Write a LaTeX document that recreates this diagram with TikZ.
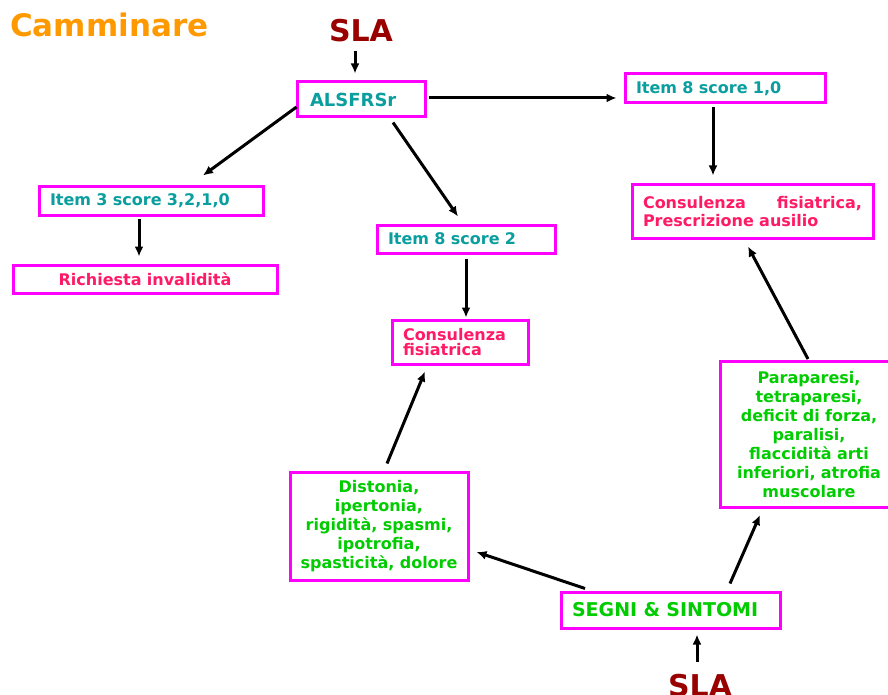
\documentclass[tikz,border=0pt]{standalone}
\usepackage{fontspec}
\setmainfont{DejaVu Sans}
\usetikzlibrary{arrows.meta}
\definecolor{boxmag}{HTML}{FF00FF}
\definecolor{itemteal}{HTML}{0A9E9E}
\definecolor{actpink}{HTML}{FF1A66}
\definecolor{symgreen}{HTML}{00CC00}
\definecolor{titleorange}{HTML}{FF9900}
\definecolor{slared}{HTML}{990000}
\begin{document}
\begin{tikzpicture}[x=1pt,y=-1pt,
  box/.style={draw=boxmag, line width=3pt, fill=white, inner xsep=11pt, inner ysep=0pt,
    font=\fontsize{16}{19}\selectfont\bfseries},
  itemtxt/.style={text=itemteal},
  pinktxt/.style={text=actpink},
  greentxt/.style={text=symgreen},
  bigword/.style={anchor=base, inner sep=0pt, font=\fontsize{30}{30}\selectfont\bfseries},
  arr/.style={-{Latex[length=10pt,width=9pt]}, line width=3pt}
]
\useasboundingbox (0,0) rectangle (888,695);

% headings
\node[bigword, anchor=base west, text=titleorange, font=\fontsize{31}{31}\selectfont\bfseries] (title) at (10,37) {Camminare};
\node[bigword, text=slared] (sla1) at (361,42) {SLA};
\node[bigword, text=slared] (sla2) at (700,696) {SLA};

% scale and items
\node[box, itemtxt, font=\fontsize{18}{20}\selectfont\bfseries, inner xsep=13pt, text width=102pt, align=left, minimum height=35pt] (alsf) at (361,99.5) {ALSFRSr};
\node[box, itemtxt, text width=178pt, align=left, minimum height=29pt] (item10) at (725,88.5) {Item 8 score 1,0};
\node[box, itemtxt, text width=202pt, align=left, minimum height=28pt] (item3) at (151,201) {Item 3 score 3,2,1,0};
\node[box, itemtxt, text width=156pt, align=left, minimum height=28pt] (item2) at (466,239) {Item 8 score 2};

% actions
\node[box, pinktxt, text width=242pt, align=center, minimum height=28pt] (rich) at (145,279) {Richiesta invalidità};
\node[box, pinktxt, font=\fontsize{16}{15}\selectfont\bfseries, text width=114pt, align=left, minimum height=44pt] (cons) at (460,342) {Consulenza\\fisiatrica};
\node[box, pinktxt, font=\fontsize{16}{18}\selectfont\bfseries, text width=219pt, align=left, minimum height=53pt] (consP) at (752.5,211.5) {Consulenza\hfill fisiatrica,\\Prescrizione ausilio};

% signs and symptoms
\node[box, greentxt, inner xsep=4pt, text width=170pt, align=center, minimum height=108pt] (dist) at (379,526)
  {Distonia,\\ipertonia,\\rigidità, spasmi,\\ipotrofia,\\spasticità, dolore};
\node[box, greentxt, inner xsep=4pt, text width=170pt, align=center, minimum height=146pt] (para) at (809,434.5)
  {Paraparesi,\\tetraparesi,\\deficit di forza,\\paralisi,\\flaccidità arti\\inferiori, atrofia\\muscolare};
\node[box, greentxt, font=\fontsize{19}{21}\selectfont\bfseries, text width=197pt, align=left, minimum height=36pt] (segni) at (670.5,610) {SEGNI \& SINTOMI};

% connectors
\draw[arr] ([xshift=-6pt,yshift=-8pt]sla1.south) -- ([xshift=-6pt,yshift=7pt]alsf.north);
\draw[arr] ([xshift=1pt,yshift=-7.5pt]alsf.west) -- ([xshift=52pt,yshift=10pt]item3.north);
\draw[arr] ([xshift=32pt,yshift=-4pt]alsf.south) -- ([xshift=-8pt,yshift=7pt]item2.north);
\draw[arr] ([xshift=2pt,yshift=1.5pt]alsf.east) -- ([xshift=-7pt,yshift=-9.5pt]item10.west);
\draw[arr] ([xshift=-12pt,yshift=-3pt]item10.south) -- ([xshift=-39.5pt,yshift=8pt]consP.north);
\draw[arr] ([xshift=-12pt,yshift=-2pt]item3.south) -- ([xshift=-6pt,yshift=7pt]rich.north);
\draw[arr] ([yshift=-4pt]item2.south) -- ([xshift=6pt,yshift=1pt]cons.north);
\draw[arr] ([xshift=8pt,yshift=7pt]dist.north) -- ([xshift=-35pt,yshift=-6pt]cons.south);
\draw[arr] ([xshift=-85.5pt,yshift=2pt]segni.north) -- ([xshift=7pt,yshift=-26pt]dist.east);
\draw[arr] ([xshift=59.5pt,yshift=7pt]segni.north) -- ([xshift=-49pt,yshift=-6pt]para.south);
\draw[arr] ([xshift=-1pt,yshift=1pt]para.north) -- ([xshift=-4.5pt,yshift=-7pt]consP.south);
\draw[arr] ([xshift=-3pt,yshift=12pt]sla2.north) -- ([xshift=26.5pt,yshift=-5pt]segni.south);
\end{tikzpicture}
\end{document}
